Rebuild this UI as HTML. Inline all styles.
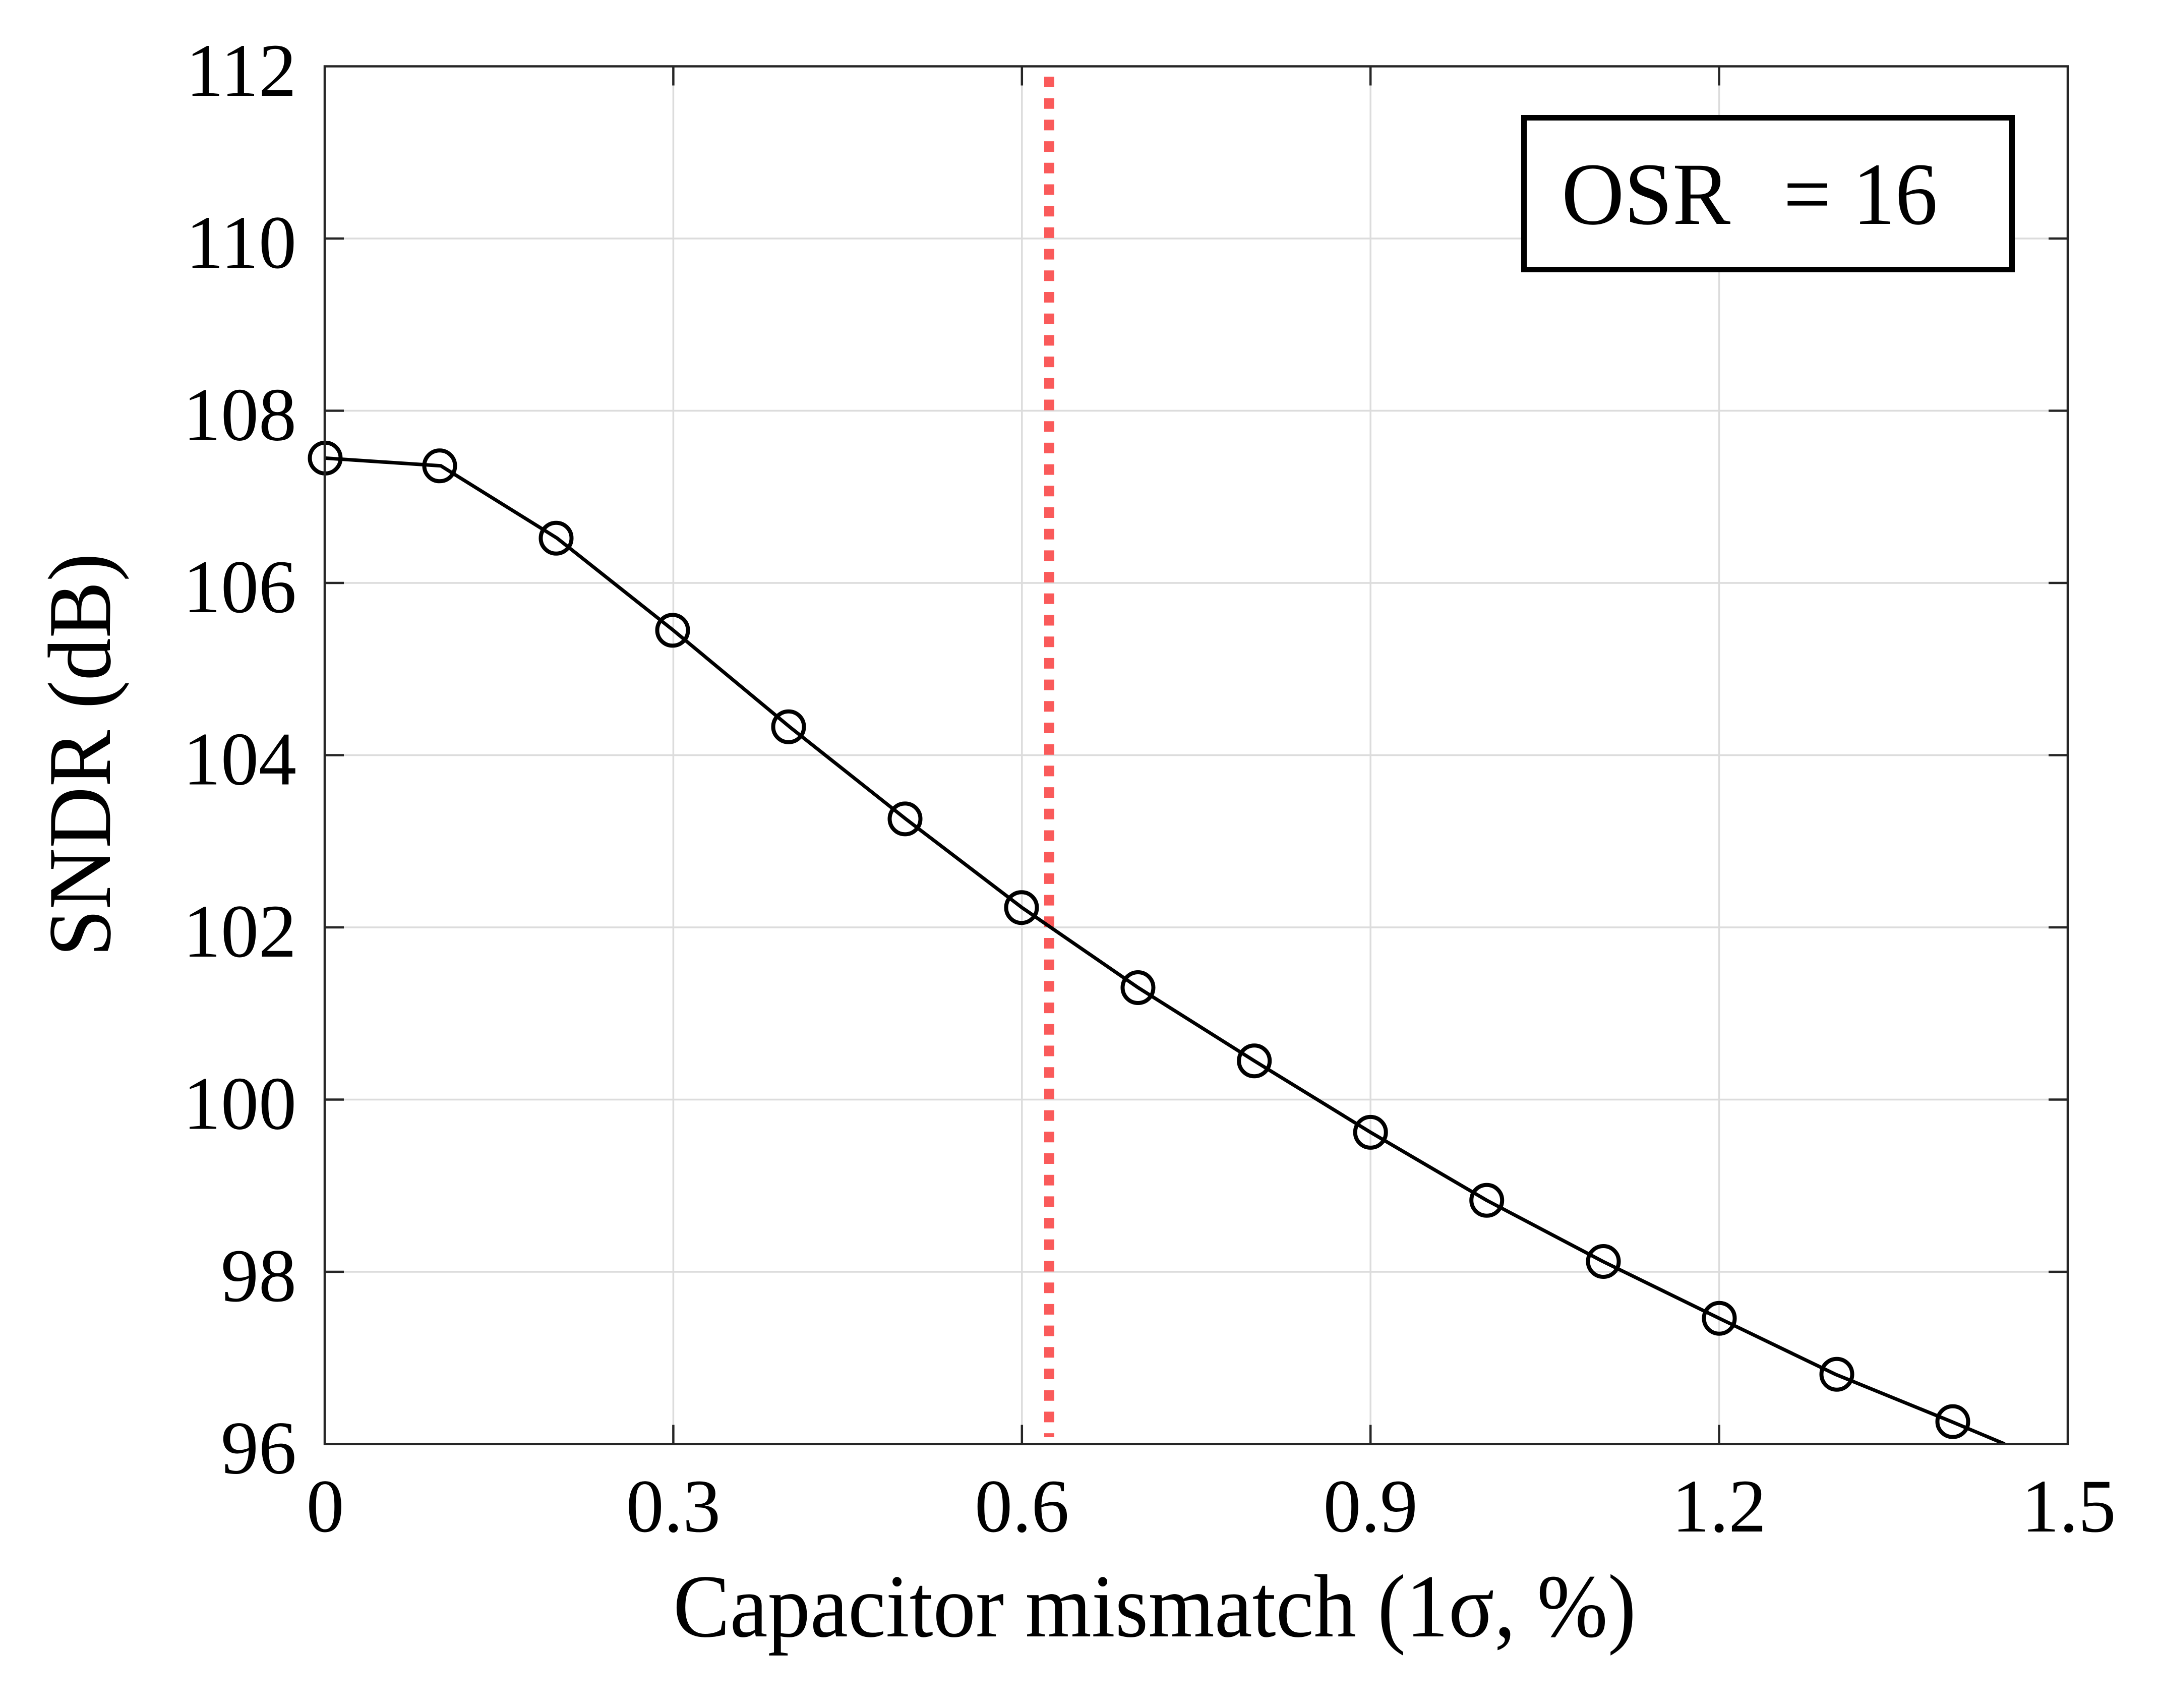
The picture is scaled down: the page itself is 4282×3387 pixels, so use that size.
<!DOCTYPE html>
<html>
<head>
<meta charset="utf-8">
<style>
  html, body { margin: 0; padding: 0; background: #ffffff; }
  svg { display: block; }
  text { font-family: "Liberation Serif", "Times New Roman", serif; fill: #000; }
</style>
</head>
<body>
<svg width="4282" height="3387" viewBox="0 0 4282 3387" xmlns="http://www.w3.org/2000/svg">
  <rect x="0" y="0" width="4282" height="3387" fill="#ffffff"/>

  <!-- grid lines -->
  <g stroke="#dcdcdc" stroke-width="3.5" fill="none">
    <line x1="644" y1="473" x2="4101" y2="473"/>
    <line x1="644" y1="814.5" x2="4101" y2="814.5"/>
    <line x1="644" y1="1156" x2="4101" y2="1156"/>
    <line x1="644" y1="1497.5" x2="4101" y2="1497.5"/>
    <line x1="644" y1="1839" x2="4101" y2="1839"/>
    <line x1="644" y1="2180.5" x2="4101" y2="2180.5"/>
    <line x1="644" y1="2522" x2="4101" y2="2522"/>
    <line x1="1335.4" y1="131.5" x2="1335.4" y2="2863.5"/>
    <line x1="2026.8" y1="131.5" x2="2026.8" y2="2863.5"/>
    <line x1="2718.2" y1="131.5" x2="2718.2" y2="2863.5"/>
    <line x1="3409.6" y1="131.5" x2="3409.6" y2="2863.5"/>
  </g>

  <!-- red dotted vertical line -->
  <line x1="2081" y1="152" x2="2081" y2="2850" stroke="#fa5a5a" stroke-width="20" stroke-dasharray="21 21.7"/>

  <!-- data line -->
  <defs>
    <clipPath id="plotclip"><rect x="644" y="131.5" width="3457" height="2732"/></clipPath>
  </defs>
  <polyline clip-path="url(#plotclip)" fill="none" stroke="#000" stroke-width="7" stroke-linejoin="round"
    points="644,908.4 874.5,923.8 1104.9,1067.2 1335.4,1249.9 1565.9,1441.2 1796.3,1623.9 2026.8,1799.7 2257.3,1958.5 2487.7,2103.7 2718.2,2245.4 2948.7,2380.3 3179.1,2501.5 3409.6,2614.2 3640.1,2725.2 3870.5,2819.1 3976,2863.5"/>

  <!-- markers -->
  <g fill="none" stroke="#000" stroke-width="8">
    <circle cx="645" cy="908.4" r="30.5"/>
    <circle cx="872" cy="923.8" r="30.5"/>
    <circle cx="1103" cy="1067.2" r="30.5"/>
    <circle cx="1334" cy="1249.9" r="30.5"/>
    <circle cx="1564" cy="1441.2" r="30.5"/>
    <circle cx="1795" cy="1623.9" r="30.5"/>
    <circle cx="2026" cy="1799.7" r="30.5"/>
    <circle cx="2257" cy="1958.5" r="30.5"/>
    <circle cx="2487.7" cy="2103.7" r="30.5"/>
    <circle cx="2718.2" cy="2245.4" r="30.5"/>
    <circle cx="2948.7" cy="2380.3" r="30.5"/>
    <circle cx="3180" cy="2501.5" r="30.5"/>
    <circle cx="3410" cy="2614.2" r="30.5"/>
    <circle cx="3643" cy="2725.2" r="30.5"/>
    <circle cx="3873" cy="2819.1" r="30.5"/>
  </g>

  <!-- ticks (inward, all four sides) -->
  <g stroke="#262626" stroke-width="4.5">
    <!-- left -->
    <line x1="644" y1="473" x2="682" y2="473"/>
    <line x1="644" y1="814.5" x2="682" y2="814.5"/>
    <line x1="644" y1="1156" x2="682" y2="1156"/>
    <line x1="644" y1="1497.5" x2="682" y2="1497.5"/>
    <line x1="644" y1="1839" x2="682" y2="1839"/>
    <line x1="644" y1="2180.5" x2="682" y2="2180.5"/>
    <line x1="644" y1="2522" x2="682" y2="2522"/>
    <!-- right -->
    <line x1="4063" y1="473" x2="4101" y2="473"/>
    <line x1="4063" y1="814.5" x2="4101" y2="814.5"/>
    <line x1="4063" y1="1156" x2="4101" y2="1156"/>
    <line x1="4063" y1="1497.5" x2="4101" y2="1497.5"/>
    <line x1="4063" y1="1839" x2="4101" y2="1839"/>
    <line x1="4063" y1="2180.5" x2="4101" y2="2180.5"/>
    <line x1="4063" y1="2522" x2="4101" y2="2522"/>
    <!-- bottom -->
    <line x1="1335.4" y1="2863.5" x2="1335.4" y2="2825.5"/>
    <line x1="2026.8" y1="2863.5" x2="2026.8" y2="2825.5"/>
    <line x1="2718.2" y1="2863.5" x2="2718.2" y2="2825.5"/>
    <line x1="3409.6" y1="2863.5" x2="3409.6" y2="2825.5"/>
    <!-- top -->
    <line x1="1335.4" y1="131.5" x2="1335.4" y2="169.5"/>
    <line x1="2026.8" y1="131.5" x2="2026.8" y2="169.5"/>
    <line x1="2718.2" y1="131.5" x2="2718.2" y2="169.5"/>
    <line x1="3409.6" y1="131.5" x2="3409.6" y2="169.5"/>
  </g>

  <!-- axes box -->
  <rect x="644" y="131.5" width="3457" height="2732" fill="none" stroke="#262626" stroke-width="4.5"/>

  <!-- y tick labels -->
  <g font-size="150" text-anchor="end">
    <text x="588" y="190">112</text>
    <text x="588" y="531">110</text>
    <text x="588" y="872.5">108</text>
    <text x="588" y="1214">106</text>
    <text x="588" y="1555.5">104</text>
    <text x="588" y="1897">102</text>
    <text x="588" y="2238.5">100</text>
    <text x="588" y="2580">98</text>
    <text x="588" y="2921.5">96</text>
  </g>

  <!-- x tick labels -->
  <g font-size="150" text-anchor="middle">
    <text x="645" y="3037">0</text>
    <text x="1335.4" y="3037">0.3</text>
    <text x="2026.8" y="3037">0.6</text>
    <text x="2718.2" y="3037">0.9</text>
    <text x="3409.6" y="3037">1.2</text>
    <text x="4103" y="3037">1.5</text>
  </g>

  <!-- axis labels -->
  <text x="2290" y="3245" font-size="178" text-anchor="middle" textLength="1910" lengthAdjust="spacingAndGlyphs">Capacitor mismatch (1σ, %)</text>
  <text transform="translate(218,1497) rotate(-90)" x="0" y="0" font-size="178" text-anchor="middle" textLength="800" lengthAdjust="spacingAndGlyphs">SNDR (dB)</text>

  <!-- legend box -->
  <rect x="3022.5" y="233.5" width="968" height="301" fill="#ffffff" stroke="#000" stroke-width="11"/>
  <text x="3097" y="444" font-size="176" textLength="335" lengthAdjust="spacingAndGlyphs">OSR</text>
  <text x="3537" y="444" font-size="176" textLength="306" lengthAdjust="spacingAndGlyphs">= 16</text>
</svg>
</body>
</html>
